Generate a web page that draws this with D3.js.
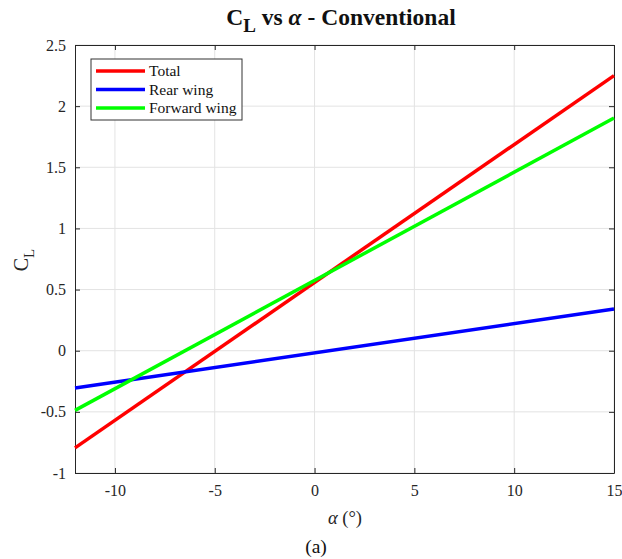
<!DOCTYPE html>
<html>
<head>
<meta charset="utf-8">
<script src="https://cdn.jsdelivr.net/npm/d3@7"></script>
<style>
    body { margin: 0; background: #fff; }
    text { font-family: "Liberation Serif", "Times New Roman", serif; }
</style>
</head>
<body>
<div id="chart"></div>
<script>
// data (lines are straight, so endpoints only)
const alpha = [-12, 15]
const totalCL = [-0.795, 2.25]
const rearCL = [-0.305, 0.341]
const forwardCL = [-0.488, 1.903]

const seriesNames = ["Total", "Rear wing", "Forward wing"]
const seriesColors = ["#ff0000", "#0000ff", "#00ff00"]
const xTicks = [-10, -5, 0, 5, 10, 15]
const yTicks = [-1, -0.5, 0, 0.5, 1, 1.5, 2, 2.5]

class clVis {

    constructor(parentElement) {
        this.parentElement = parentElement
        this.initVis()
    }

    initVis() {
        let vis = this

        vis.margin = {top: 45, right: 8, bottom: 86, left: 75};
        vis.width = 622 - vis.margin.left - vis.margin.right;
        vis.height = 559 - vis.margin.top - vis.margin.bottom;

        vis.root = d3.select(`#${vis.parentElement}`)
            .append("svg")
            .attr("width", 622)
            .attr("height", 559)
        vis.svg = vis.root.append("g")
            .attr("transform", `translate(${vis.margin.left}, ${vis.margin.top})`)

        vis.x = d3.scaleLinear().domain([-12, 15]).range([0, vis.width])
        vis.y = d3.scaleLinear().domain([-1, 2.5]).range([vis.height, 0])

        // grid
        vis.svg.selectAll(".xgrid").data(xTicks).enter().append("line")
            .attr("class", "xgrid")
            .attr("x1", d => vis.x(d)).attr("x2", d => vis.x(d))
            .attr("y1", 0).attr("y2", vis.height)
            .attr("stroke", "#e3e3e3")
        vis.svg.selectAll(".ygrid").data(yTicks).enter().append("line")
            .attr("class", "ygrid")
            .attr("y1", d => vis.y(d)).attr("y2", d => vis.y(d))
            .attr("x1", 0).attr("x2", vis.width)
            .attr("stroke", "#e3e3e3")

        // axes with inward ticks on all four sides, plain hyphen for minus
        let fmt = d => String(d)
        let styleAxis = g => {
            g.select(".domain").attr("stroke", "#262626")
            g.selectAll(".tick line").attr("stroke", "#262626")
            g.selectAll(".tick text")
                .attr("fill", "#262626")
                .style("font-size", "16px")
        }
        vis.svg.append("g")
            .attr("transform", `translate(0, ${vis.height})`)
            .call(d3.axisBottom(vis.x).tickValues(xTicks).tickFormat(fmt).tickSizeInner(-5).tickSizeOuter(0).tickPadding(12))
            .call(styleAxis)
        vis.svg.append("g")
            .call(d3.axisTop(vis.x).tickValues(xTicks).tickFormat("").tickSizeInner(-5).tickSizeOuter(0))
            .call(styleAxis)
        vis.svg.append("g")
            .call(d3.axisLeft(vis.y).tickValues(yTicks).tickFormat(fmt).tickSizeInner(-5).tickSizeOuter(0).tickPadding(9))
            .call(styleAxis)
        vis.svg.append("g")
            .attr("transform", `translate(${vis.width}, 0)`)
            .call(d3.axisRight(vis.y).tickValues(yTicks).tickFormat("").tickSizeInner(-5).tickSizeOuter(0))
            .call(styleAxis)

        // lines
        let series = [totalCL, rearCL, forwardCL]
        let line = d3.line().x(d => vis.x(d[0])).y(d => vis.y(d[1]))
        vis.svg.selectAll(".cl-line")
            .data(series)
            .enter().append("path")
            .attr("class", "cl-line")
            .attr("d", d => line(alpha.map((a, i) => [a, d[i]])))
            .attr("fill", "none")
            .attr("stroke", (d, i) => seriesColors[i])
            .attr("stroke-width", 3.5)

        // legend
        let lg = vis.svg.append("g").attr("transform", "translate(16, 14)")
        lg.append("rect")
            .attr("width", 151).attr("height", 61)
            .attr("fill", "#fff").attr("stroke", "#333").attr("stroke-width", 1)
        seriesNames.forEach((name, i) => {
            let yy = 12 + i * 18.5
            lg.append("line")
                .attr("x1", 5).attr("x2", 54)
                .attr("y1", yy).attr("y2", yy)
                .attr("stroke", seriesColors[i]).attr("stroke-width", 3.5)
            lg.append("text")
                .attr("x", 58).attr("y", yy + 5)
                .style("font-size", "15.5px")
                .attr("fill", "#111")
                .text(name)
        })

        // title
        let title = vis.root.append("text")
            .attr("x", 341).attr("y", 25)
            .attr("text-anchor", "middle")
            .style("font-size", "23.5px")
            .style("font-weight", "bold")
            .attr("fill", "#111")
        title.append("tspan").text("C")
        title.append("tspan").attr("dy", 7).style("font-size", "19px").text("L")
        title.append("tspan").attr("dy", -7).text(" vs ")
        title.append("tspan").style("font-style", "italic").text("α")
        title.append("tspan").text(" - Conventional")

        // y label
        let ylab = vis.root.append("text")
            .attr("transform", "translate(28, 260) rotate(-90)")
            .attr("text-anchor", "middle")
            .style("font-size", "20px")
            .attr("fill", "#262626")
        ylab.append("tspan").text("C")
        ylab.append("tspan").attr("dy", 6).style("font-size", "15px").text("L")

        // x label
        let xlab = vis.root.append("text")
            .attr("x", 345).attr("y", 524)
            .attr("text-anchor", "middle")
            .style("font-size", "18.5px")
            .attr("fill", "#262626")
        xlab.append("tspan").style("font-style", "italic").text("α")
        xlab.append("tspan").text(" (°)")

        vis.root.append("text")
            .attr("x", 316).attr("y", 553)
            .attr("text-anchor", "middle")
            .style("font-size", "19.5px")
            .attr("fill", "#111")
            .text("(a)")
    }
}

new clVis("chart")
</script>
</body>
</html>
